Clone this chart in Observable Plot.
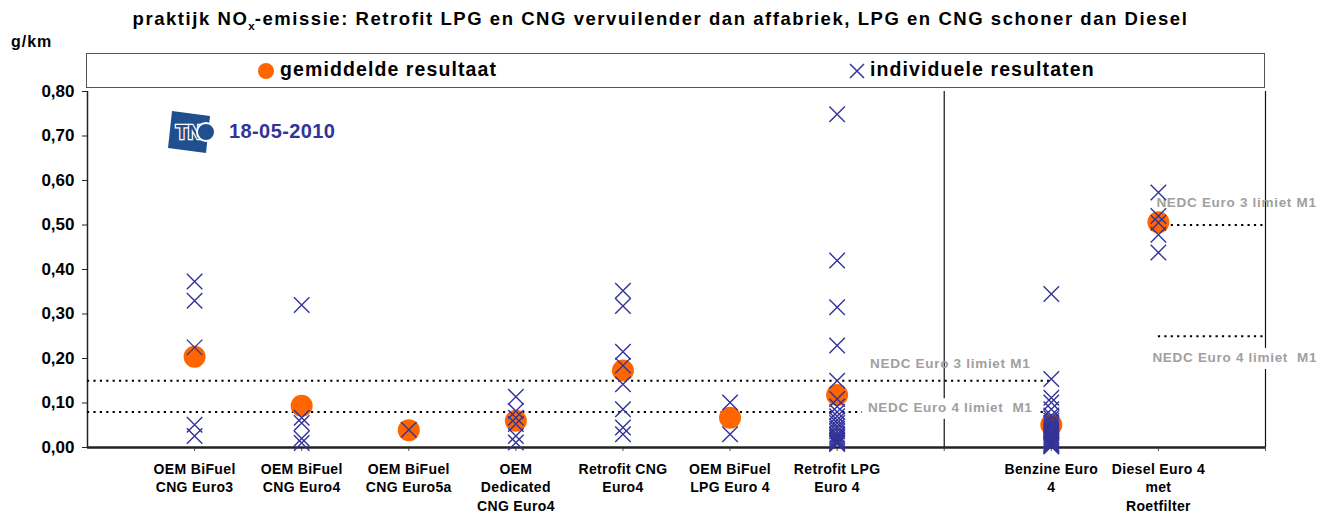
<!DOCTYPE html>
<html><head><meta charset="utf-8">
<script src="https://cdn.jsdelivr.net/npm/d3@7"></script>
<script src="https://cdn.jsdelivr.net/npm/@observablehq/plot@0.6"></script>
<style>
body{margin:0;background:#fff;font-family:"Liberation Sans",Arial,sans-serif;}
#wrap{position:relative;width:1321px;height:515px;overflow:hidden;}
#chart{position:absolute;left:0;top:0;}
#title{position:absolute;top:8px;left:0;width:1321px;text-align:center;font-weight:bold;font-size:18.5px;letter-spacing:1.55px;color:#000;}
#title sub{font-size:11.5px;letter-spacing:0;}
#unit{position:absolute;left:11px;top:33px;font-weight:bold;font-size:16px;letter-spacing:1px;}
#legend{position:absolute;left:86px;top:53px;width:1179px;height:35px;border:1.5px solid #555;box-sizing:border-box;background:#fff;}
.lg{position:absolute;top:4px;font-weight:bold;font-size:19.5px;letter-spacing:1.1px;white-space:nowrap;}
#logo{position:absolute;left:160px;top:108px;}
#date{position:absolute;left:229px;top:120px;font-weight:bold;font-size:20px;letter-spacing:0.4px;color:#333399;}
g[aria-label="x-axis tick label"] text{letter-spacing:0.35px;}
</style>
</head><body>
<div id="wrap">
<div id="chart"></div>
<div id="title">praktijk NO<sub>x</sub>-emissie: Retrofit LPG en CNG vervuilender dan affabriek, LPG en CNG schoner dan Diesel</div>
<div id="unit">g/km</div>
<div id="legend">
  <svg style="position:absolute;left:170px;top:8px" width="18" height="18"><circle cx="9" cy="9" r="8" fill="#FF6600"/></svg>
  <span class="lg" style="left:193px">gemiddelde resultaat</span>
  <svg style="position:absolute;left:761px;top:8px" width="18" height="18"><path d="M2,2L16,16M16,2L2,16" stroke="#333399" stroke-width="1.5"/></svg>
  <span class="lg" style="left:783px">individuele resultaten</span>
</div>
<div id="logo">
  <svg width="60" height="48" viewBox="0 0 60 48">
    <polygon points="12,3 50,8 46,45 8,40" fill="#1f4f8f"/>
    <text x="29" y="31" text-anchor="middle" font-family="Liberation Sans, Arial" font-weight="bold" font-size="20" fill="#1f4f8f" stroke="#fff" stroke-width="2.5" paint-order="stroke">TN</text>
    <circle cx="46" cy="24" r="9" fill="#1f4f8f" stroke="#fff" stroke-width="2"/>
  </svg>
</div>
<div id="date">18-05-2010</div>
</div>
<script>
// ---- data ----
const categories = [
  "OEM BiFuel\nCNG Euro3",
  "OEM BiFuel\nCNG Euro4",
  "OEM BiFuel\nCNG Euro5a",
  "OEM\nDedicated\nCNG Euro4",
  "Retrofit CNG\nEuro4",
  "OEM BiFuel\nLPG Euro 4",
  "Retrofit LPG\nEuro 4",
  "",
  "Benzine Euro\n4",
  "Diesel Euro 4\nmet\nRoetfilter"
];
const means = [0.204, 0.094, 0.039, 0.060, 0.173, 0.067, 0.118, null, 0.051, 0.506];
const cngEuro3 = [0.373, 0.330, 0.225, 0.051, 0.026];
const cngEuro4 = [0.320, 0.067, 0.055, 0.020, 0.010];
const cngEuro5a = [0.040];
const dedicatedCng = [0.114, 0.082, 0.067, 0.053, 0.026, 0.011];
const retrofitCng = [0.352, 0.318, 0.215, 0.184, 0.142, 0.086, 0.045, 0.030];
const lpgEuro4 = [0.101, 0.030];
const retrofitLpg = [0.749, 0.420, 0.315, 0.229, 0.150, 0.109, 0.092, 0.080, 0.070, 0.062, 0.055, 0.048, 0.042, 0.036, 0.030, 0.026, 0.022, 0.018, 0.015, 0.012, 0.010, 0.008];
const benzine = [0.345, 0.154, 0.112, 0.101, 0.086, 0.072, 0.066, 0.060, 0.055, 0.050, 0.045, 0.040, 0.036, 0.032, 0.028, 0.025, 0.022, 0.019, 0.016, 0.013, 0.010, 0.008, 0.006, 0.004, 0.002];
const diesel = [0.573, 0.520, 0.505, 0.478, 0.438];
const individual = [cngEuro3, cngEuro4, cngEuro5a, dedicatedCng, retrofitCng, lpgEuro4, retrofitLpg, [], benzine, diesel];
const yTicks = [0, 0.1, 0.2, 0.3, 0.4, 0.5, 0.6, 0.7, 0.8];
const petrolLimits = [0.15, 0.08];
const dieselLimits = [0.50, 0.25];
const limitLabels = ["NEDC Euro 3 limiet M1", "NEDC Euro 4 limiet  M1"];

// ---- derived tables ----
const n = categories.length;            // positions 1..n, domain 0..n+1
const meanData = means.map((v, i) => ({pos: i + 1, value: v})).filter(d => d.value != null);
const indivData = individual.flatMap((arr, i) => arr.map(v => ({pos: i + 1, value: v})));
const sepPos = categories.indexOf("") + 1;
const benzPos = categories.indexOf("Benzine Euro\n4") + 1;
const dieselPos = categories.length;
const petrolRules = petrolLimits.map((v, i) => ({value: v, x1: 0, x2: benzPos, label: limitLabels[i]}));
const dieselRules = dieselLimits.map((v, i) => ({value: v, x1: dieselPos, x2: n + 1, label: limitLabels[i]}));
const fmt = d => d.toFixed(2).replace(".", ",");

const plot = Plot.plot({
  width: 1321, height: 515,
  marginTop: 91, marginBottom: 68, marginLeft: 87, marginRight: 56,
  style: {fontFamily: "'Liberation Sans', Arial, sans-serif", fontWeight: "bold", fontSize: "15px", color: "#000", background: "transparent"},
  x: {type: "linear", domain: [0, n + 1], axis: null},
  y: {domain: [0, 0.8], axis: null},
  marks: [
    Plot.axisY({ticks: yTicks, tickFormat: fmt, tickSize: 5, tickPadding: 8, label: null, fontSize: 17, stroke: "#222"}),
    Plot.axisX({ticks: d3.range(1, n + 2), tickFormat: d => categories[d - 1] ?? "", tickSize: 4, tickPadding: 9, label: null, fontSize: 14, lineHeight: 1.33, stroke: "#555"}),
    Plot.ruleX([0], {stroke: "#222", strokeWidth: 1.5}),
    Plot.ruleX([sepPos, n + 1], {stroke: "#111", strokeWidth: 1.2}),
    // limit lines
    Plot.ruleY(petrolRules, {y: "value", x1: "x1", x2: "x2", stroke: "#000", strokeWidth: 2, strokeDasharray: "2.2,4.2"}),
    Plot.ruleY(dieselRules, {y: "value", x1: "x1", x2: "x2", stroke: "#000", strokeWidth: 2, strokeDasharray: "2.2,4.2"}),
    // petrol labels
    Plot.text(petrolRules.slice(0, 1), {x: () => sepPos, y: "value", text: "label", dx: 6, dy: -17, fill: "#a0a0a0", fontSize: 13.5}),
    Plot.text(petrolRules.slice(1), {x: () => sepPos, y: "value", text: "label", dx: 6, dy: -4, fill: "#a0a0a0", fontSize: 13.5, stroke: "white", strokeWidth: 14}),
    // diesel labels
    Plot.text(dieselRules.slice(0, 1), {x: "x1", y: "value", text: "label", textAnchor: "start", dx: -2, dy: -22, fill: "#a0a0a0", fontSize: 13.5}),
    Plot.text(dieselRules.slice(1), {x: "x1", y: "value", text: "label", textAnchor: "start", dx: -6, dy: 21, fill: "#a0a0a0", fontSize: 13.5, stroke: "white", strokeWidth: 14}),
    Plot.ruleY([0], {stroke: "#222", strokeWidth: 2.5}),
    // means
    Plot.dot(meanData, {x: "pos", y: "value", r: 11, fill: "#FF6600"}),
    // individual results
    Plot.dot(indivData, {x: "pos", y: "value", symbol: "times", r: 7.1, stroke: "#333399", strokeWidth: 1.4})
  ]
});
// widen the limit labels' letter spacing like the original rendering
d3.select(plot).selectAll("text").filter(function () { return (this.textContent || "").startsWith("NEDC"); })
  .style("letter-spacing", "0.7px");
document.getElementById("chart").appendChild(plot);
</script>
</body></html>
